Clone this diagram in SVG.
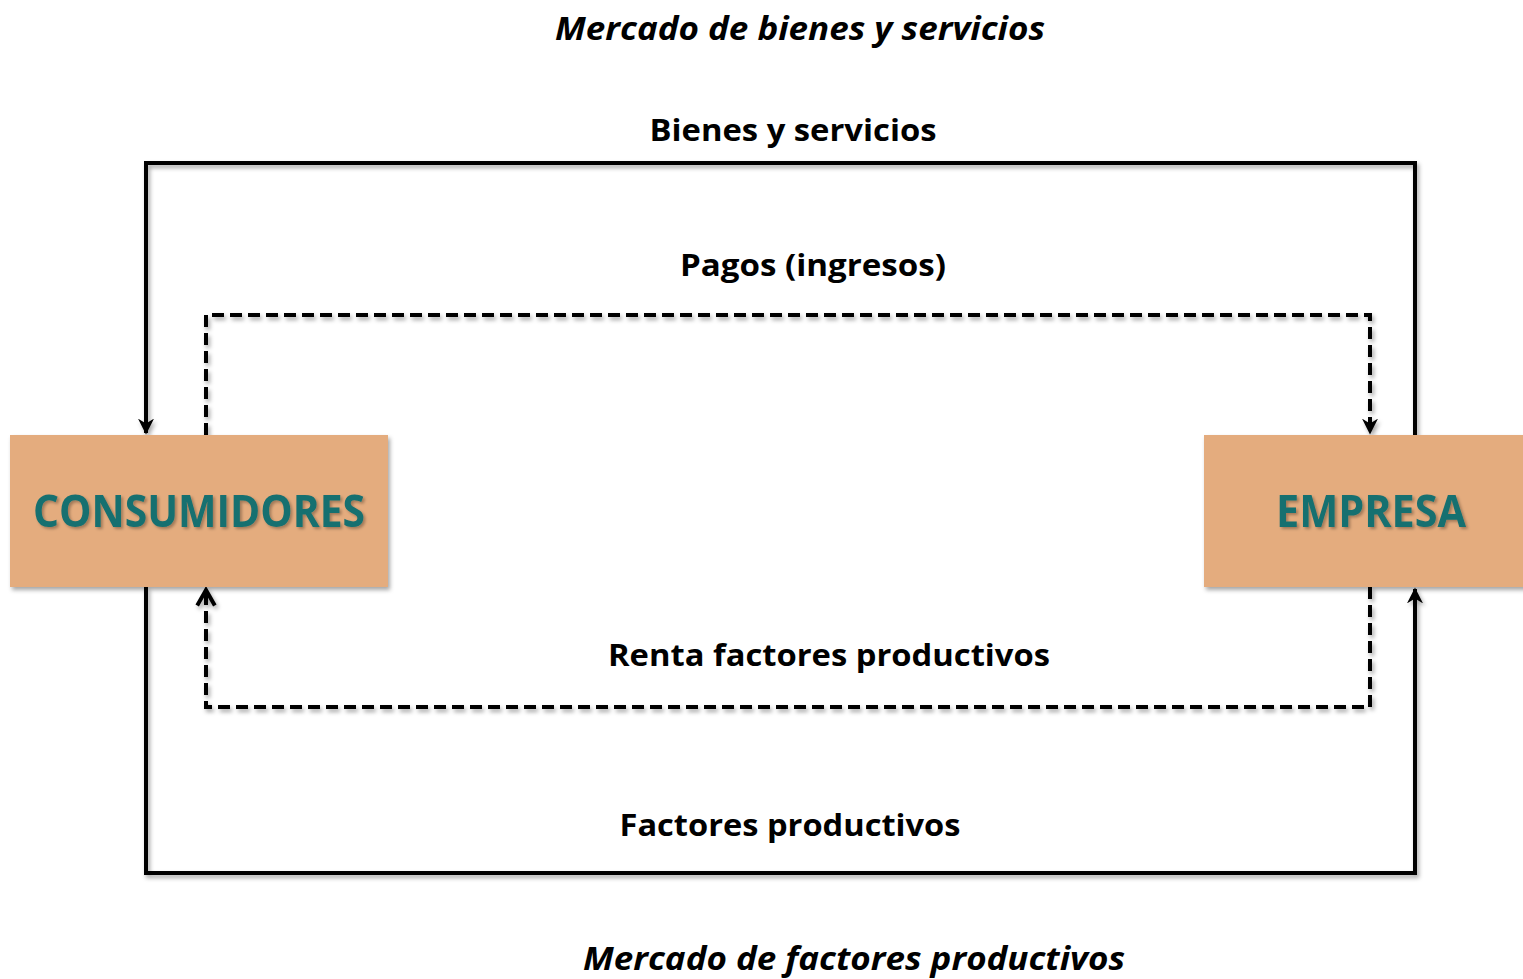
<svg xmlns="http://www.w3.org/2000/svg" width="1523" height="979" viewBox="0 0 1523 979">
<defs>
<filter id="sh" x="-10%" y="-10%" width="120%" height="130%">
<feDropShadow dx="2" dy="3" stdDeviation="2" flood-color="#000" flood-opacity="0.35"/>
</filter>
<filter id="tsh" x="-10%" y="-20%" width="120%" height="150%">
<feDropShadow dx="2" dy="2" stdDeviation="1.5" flood-color="#000" flood-opacity="0.3"/>
</filter>
<marker id="ah" viewBox="0 0 10 10" refX="9" refY="5" markerWidth="4" markerHeight="4" orient="auto" markerUnits="strokeWidth">
<path d="M0,0 L10,5 L0,10 L3,5 z" fill="#000"/>
</marker>
<marker id="oh" viewBox="0 0 10 10" refX="8.5" refY="5" markerWidth="5.5" markerHeight="5.5" orient="auto" markerUnits="strokeWidth">
<path d="M1.5,1 L8.5,5 L1.5,9" fill="none" stroke="#000" stroke-width="1.8" stroke-linejoin="miter"/>
</marker>
</defs>
<style>
.lbl{font-family:"Open Sans","Liberation Sans",sans-serif;font-weight:bold;font-size:30px;fill:#000;text-anchor:middle}
.ttl{font-family:"Open Sans","Liberation Sans",sans-serif;font-weight:bold;font-style:italic;font-size:32px;fill:#000;text-anchor:middle}
.box{fill:#E4AC7E}
.nt{font-family:"Open Sans","Liberation Sans",sans-serif;font-weight:bold;font-size:45px;fill:#186F6F;text-anchor:middle}
.sol{fill:none;stroke:#000;stroke-width:4}
.das{fill:none;stroke:#000;stroke-width:4;stroke-dasharray:12 6}
</style>
<rect width="1523" height="979" fill="#fff"/>
<g id="connectors" filter="url(#sh)">
<path class="sol" d="M1415,435 V163 H146 V433" marker-end="url(#ah)"/>
<path class="sol" d="M146,587 V873 H1415 V589" marker-end="url(#ah)"/>
<path class="das" d="M206,435 V315 H1370 V433" marker-end="url(#ah)"/>
<path class="das" d="M1370,587 V707 H206 V590" marker-end="url(#oh)"/>
</g>
<g id="labels">
<text class="ttl" x="800" y="40" textLength="490" lengthAdjust="spacingAndGlyphs">Mercado de bienes y servicios</text>
<text class="lbl" x="793" y="141" textLength="287" lengthAdjust="spacingAndGlyphs">Bienes y servicios</text>
<text class="lbl" x="813" y="276" textLength="266" lengthAdjust="spacingAndGlyphs">Pagos (ingresos)</text>
<text class="lbl" x="829" y="666" textLength="442" lengthAdjust="spacingAndGlyphs">Renta factores productivos</text>
<text class="lbl" x="790" y="836" textLength="341" lengthAdjust="spacingAndGlyphs">Factores productivos</text>
<text class="ttl" x="854" y="970" textLength="542" lengthAdjust="spacingAndGlyphs">Mercado de factores productivos</text>
</g>
<g id="consumidores">
<rect class="box" x="10" y="435" width="378" height="152" filter="url(#sh)"/>
<text class="nt" x="199" y="527" textLength="332" lengthAdjust="spacingAndGlyphs" filter="url(#tsh)">CONSUMIDORES</text>
</g>
<g id="empresa">
<rect class="box" x="1204" y="435" width="325" height="152" filter="url(#sh)"/>
<text class="nt" x="1371" y="527" textLength="190" lengthAdjust="spacingAndGlyphs" filter="url(#tsh)">EMPRESA</text>
</g>
</svg>
